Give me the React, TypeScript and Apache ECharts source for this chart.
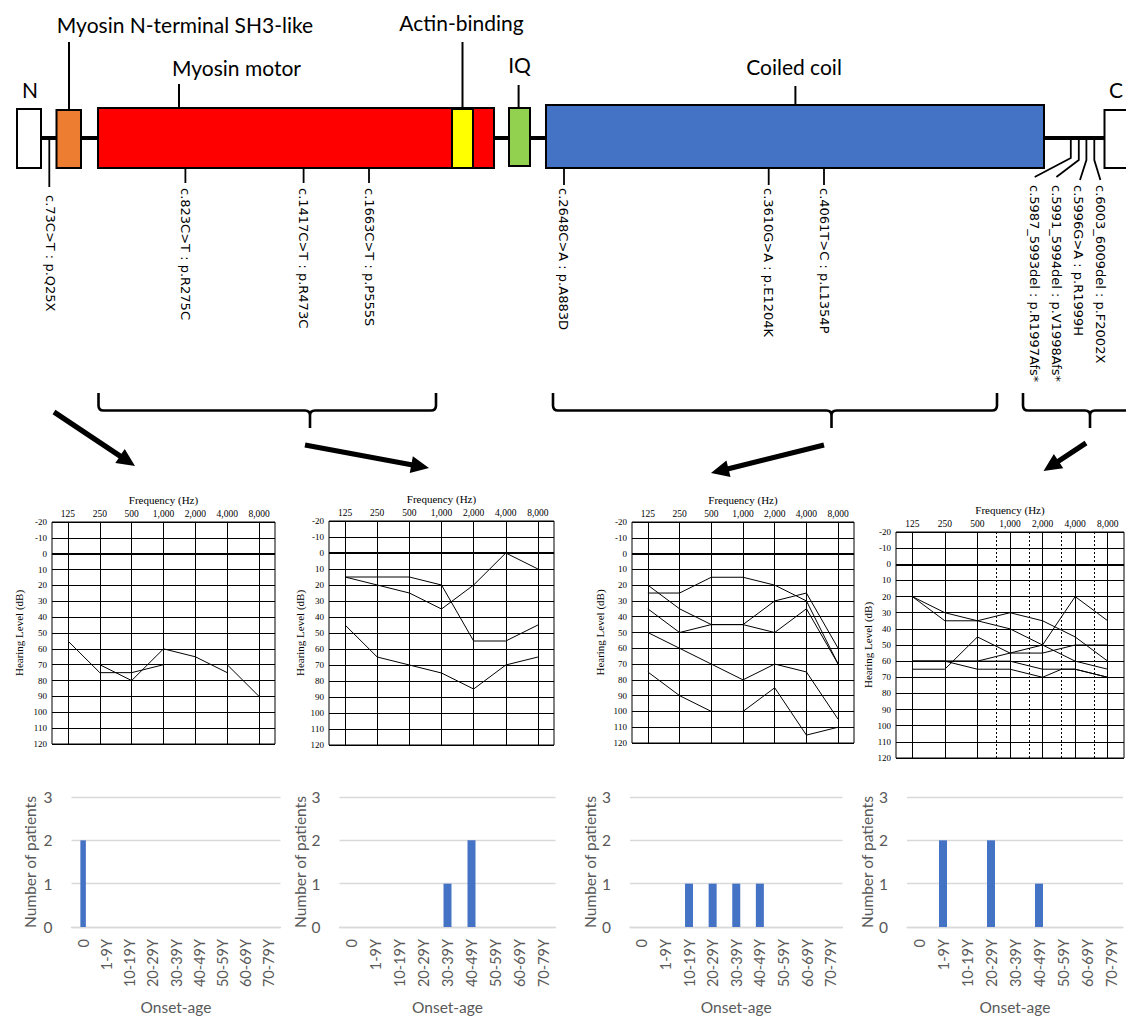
import React, { useEffect, useRef } from "react";
import * as echarts from "echarts";

// ================= DATA =================
// Audiogram frequencies (Hz) and their tick labels
const FREQ_HZ = [125, 250, 500, 1000, 2000, 4000, 8000];
const FREQ_LABELS = ["125", "250", "500", "1,000", "2,000", "4,000", "8,000"];
const HALF_OCTAVE_HZ = [750, 1500, 3000, 6000];
const P4_FREQ_HZ = [125, 250, 500, 1000, 2000, 3000, 4000, 8000];

// Panel 1 (c.73C>T) hearing levels in dB, aligned with FREQ_HZ
const P1_A = [55, 75, 75, 70, null, 70, 90];
const P1_B = [null, 70, 80, 60, 65, 75, null];
// Panel 2 (myosin motor)
const P2_A = [15, 15, 15, 20, 55, 55, 45];
const P2_B = [15, 20, 25, 35, 20, 0, 10];
const P2_C = [45, 65, 70, 75, 85, 70, 65];
// Panel 3 (coiled coil)
const P3_A = [25, 25, 15, 15, 20, 30, 70];
const P3_B = [20, 35, 45, 45, 50, 35, 70];
const P3_C = [35, 50, 45, 45, 30, 25, 60];
const P3_D = [50, 60, 70, 80, 70, 75, 105];
const P3_E = [75, 90, 100, 100, 85, 115, 110];
// Panel 4 (C-terminal), aligned with P4_FREQ_HZ
const P4_A = [20, 30, 35, 40, 50, null, 60, 65];
const P4_B = [20, 35, 35, 30, 35, null, 45, 60];
const P4_C = [60, 60, 60, 55, 50, null, 20, 35];
const P4_D = [65, 65, 45, 55, 55, null, 50, 50];
const P4_E = [60, 60, 65, 65, 70, 65, 65, 70];
const P4_F = [60, 60, 60, 60, 65, null, 65, 70];

// Onset-age histograms
const AGE_GROUPS = ["0", "1-9Y", "10-19Y", "20-29Y", "30-39Y", "40-49Y", "50-59Y", "60-69Y", "70-79Y"];
const ONSET_P1 = [2, 0, 0, 0, 0, 0, 0, 0, 0];
const ONSET_P2 = [0, 0, 0, 0, 1, 2, 0, 0, 0];
const ONSET_P3 = [0, 0, 1, 1, 1, 1, 0, 0, 0];
const ONSET_P4 = [0, 2, 0, 2, 0, 1, 0, 0, 0];

// Protein diagram texts
const DOMAIN_LABELS = ["N", "Myosin N-terminal SH3-like", "Myosin motor", "Actin-binding", "IQ", "Coiled coil", "C"];
const MUTATIONS = [
  "c.73C>T : p.Q25X",
  "c.823C>T : p.R275C",
  "c.1417C>T : p.R473C",
  "c.1663C>T : p.P555S",
  "c.2648C>A : p.A883D",
  "c.3610G>A : p.E1204K",
  "c.4061T>C : p.L1354P",
  "c.5987_5993del : p.R1997Afs*",
  "c.5991_5994del : p.V1998Afs*",
  "c.5996G>A : p.R1999H",
  "c.6003_6009del : p.F2002X",
];

// ================= LAYOUT / STYLE =================
const SERIF = "'Liberation Serif', 'Times New Roman', serif";
const SANS = "Lato, 'Open Sans', sans-serif";
const MUT_FONT = "'DejaVu Sans', sans-serif";

const AUDIO_PANELS = [
  { freqs: FREQ_HZ, lines: [P1_A, P1_B], connect: false, half: false },
  { freqs: FREQ_HZ, lines: [P2_A, P2_B, P2_C], connect: false, half: false },
  { freqs: FREQ_HZ, lines: [P3_A, P3_B, P3_C, P3_D, P3_E], connect: false, half: false },
  { freqs: P4_FREQ_HZ, lines: [P4_A, P4_B, P4_C, P4_D, P4_E, P4_F], connect: true, half: true },
];
const AUDIO_LAYOUT = [
  { left: 52, top: 522, width: 223, height: 222, gapY: 28 },
  { left: 329, top: 521, width: 225, height: 224, gapY: 23.5 },
  { left: 632, top: 522, width: 222, height: 221, gapY: 26.5 },
  { left: 896, top: 532, width: 228, height: 226, gapY: 17.5 },
];
const BAR_PANELS = [ONSET_P1, ONSET_P2, ONSET_P3, ONSET_P4];
const BAR_LAYOUT = [
  { left: 71.5, width: 209, barWidth: 5.5, gapY: 33.5 },
  { left: 339.5, width: 216, barWidth: 8, gapY: 28.5 },
  { left: 630, width: 212.5, barWidth: 8, gapY: 31.5 },
  { left: 907, width: 216, barWidth: 8, gapY: 29.5 },
];

// diagram layout
const BOXES = [
  { x: 17, y: 109, w: 24, h: 59, fill: "#ffffff" },
  { x: 56.5, y: 110, w: 24.5, h: 58, fill: "#ED7D31" },
  { x: 98, y: 108, w: 396, h: 60, fill: "#FF0000" },
  { x: 452, y: 109, w: 21, h: 59, fill: "#FFFF00" },
  { x: 509, y: 108, w: 21, h: 58, fill: "#92D050" },
  { x: 546, y: 105, w: 498, h: 63, fill: "#4472C4" },
  { x: 1104.5, y: 110, w: 40, h: 58, fill: "#ffffff" },
];
const DOMAIN_POS = [
  { x: 30, y: 89, line: null },
  { x: 185, y: 24, line: [69, 42, 110] },
  { x: 236.5, y: 67, line: [179, 84, 108] },
  { x: 461.5, y: 22, line: [462.5, 42, 109] },
  { x: 519.5, y: 64, line: [518.6, 85, 108] },
  { x: 794, y: 66, line: [795.4, 86, 105] },
  { x: 1116, y: 89, line: null },
];
const MUT_POS = [
  { tx: 50, ty: 195, pts: [[49.3, 138], [49.3, 187]] },
  { tx: 185.5, ty: 188, pts: [[185.4, 168], [185.4, 183]] },
  { tx: 303.6, ty: 188, pts: [[303.6, 168], [303.6, 183]] },
  { tx: 369, ty: 188, pts: [[369, 168], [369, 183]] },
  { tx: 563.5, ty: 188, pts: [[564, 168], [564, 185]] },
  { tx: 768.5, ty: 188, pts: [[768.7, 168], [768.7, 185]] },
  { tx: 824, ty: 188, pts: [[824, 168], [824, 185]] },
  { tx: 1034, ty: 185, pts: [[1070.8, 138], [1070.8, 158], [1034.7, 177]] },
  { tx: 1056, ty: 185, pts: [[1078.8, 138], [1078.8, 160], [1056.4, 177]] },
  { tx: 1078, ty: 185, pts: [[1086.4, 138], [1086.4, 160], [1080, 180]] },
  { tx: 1100.5, ty: 185, pts: [[1094.3, 138], [1094.3, 160], [1100.4, 180]] },
];
const BRACES = [
  { l: 98.5, r: 436, c: 310 },
  { l: 553, r: 997, c: 831.5 },
  { l: 1023, r: 1150, c: 1090 },
];
const ARROWS = [
  { from: [54, 412], to: [135, 466] },
  { from: [305, 445], to: [429, 468] },
  { from: [824, 445], to: [711, 473] },
  { from: [1086, 443], to: [1043.5, 471] },
];

function bracePath(l: number, r: number, c: number) {
  const top = 393, mid = 410.5, tip = 428, rr = 5;
  return `M${l} ${top} L${l} ${mid - rr} Q${l} ${mid} ${l + rr} ${mid} L${c - rr} ${mid} Q${c} ${mid} ${c} ${mid + rr} L${c} ${tip} M${c} ${mid + rr} Q${c} ${mid} ${c + rr} ${mid} L${r - rr} ${mid} Q${r} ${mid} ${r} ${mid - rr} L${r} ${top}`;
}

function arrowPolygon(from: number[], to: number[]) {
  const dx = to[0] - from[0], dy = to[1] - from[1];
  const len = Math.hypot(dx, dy);
  const ux = dx / len, uy = dy / len;
  const px = -uy, py = ux;
  const headLen = 18, headHalf = 8.5, shaft = 2.6;
  const bx = to[0] - ux * headLen, by = to[1] - uy * headLen;
  return {
    type: "polygon",
    shape: {
      points: [
        [from[0] + px * shaft, from[1] + py * shaft],
        [bx + px * shaft, by + py * shaft],
        [bx + px * headHalf, by + py * headHalf],
        [to[0], to[1]],
        [bx - px * headHalf, by - py * headHalf],
        [bx - px * shaft, by - py * shaft],
        [from[0] - px * shaft, from[1] - py * shaft],
      ],
    },
    style: { fill: "#000" },
    silent: true,
  };
}

function buildOption() {
  BRACES.forEach((b, i) => {
    echarts.graphic.registerShape("brace" + i, echarts.graphic.extendPath(bracePath(b.l, b.r, b.c), {}));
  });

  const grids: any[] = [];
  const xAxes: any[] = [];
  const yAxes: any[] = [];
  const series: any[] = [];

  AUDIO_PANELS.forEach((p, i) => {
    const L = AUDIO_LAYOUT[i];
    grids.push({ left: L.left, top: L.top, width: L.width, height: L.height, show: true, borderColor: "#000", borderWidth: 1, backgroundColor: "transparent" });
    const logIdx = xAxes.length;
    xAxes.push({ type: "log", logBase: 2, gridIndex: i, min: FREQ_HZ[0] / Math.SQRT2, max: FREQ_HZ[FREQ_HZ.length - 1] * Math.SQRT2, show: false });
    xAxes.push({
      type: "category", gridIndex: i, position: "top", data: FREQ_LABELS, boundaryGap: true,
      axisLine: { show: false }, axisTick: { show: false }, splitLine: { show: false },
      axisLabel: { fontFamily: SERIF, fontSize: 9.5, color: "#000", margin: 3, interval: 0 },
      name: "Frequency (Hz)", nameLocation: "middle", nameGap: 17,
      nameTextStyle: { fontFamily: SERIF, fontSize: 11, color: "#000" },
    });
    yAxes.push({
      type: "value", gridIndex: i, inverse: true, min: -20, max: 120, interval: 10,
      axisLine: { show: false }, axisTick: { show: false },
      splitLine: { show: true, lineStyle: { color: "#000", width: 1 } },
      axisLabel: { fontFamily: SERIF, fontSize: 9, color: "#000", margin: 5 },
      name: "Hearing Level (dB)", nameLocation: "middle", nameGap: L.gapY,
      nameTextStyle: { fontFamily: SERIF, fontSize: 11, color: "#000" },
    });
    const mlData: any[] = FREQ_HZ.map((f) => ({ xAxis: f }));
    mlData.push({ yAxis: 0, lineStyle: { width: 2, color: "#000", type: "solid" } });
    if (p.half) HALF_OCTAVE_HZ.forEach((f) => mlData.push({ xAxis: f, lineStyle: { type: [2, 2], width: 1, color: "#000" } }));
    p.lines.forEach((vals, k) => {
      series.push({
        type: "line", xAxisIndex: logIdx, yAxisIndex: i,
        data: p.freqs.map((f, j) => [f, vals[j] === null ? null : vals[j]]),
        connectNulls: p.connect, symbol: "none", showSymbol: false, silent: true,
        lineStyle: { color: "#000", width: 1 },
        markLine: k === 0 ? {
          silent: true, symbol: ["none", "none"], label: { show: false },
          lineStyle: { color: "#000", width: 1, type: "solid" }, data: mlData, animation: false,
        } : undefined,
        z: 3,
      });
    });
  });

  BAR_PANELS.forEach((vals, j) => {
    const L = BAR_LAYOUT[j];
    const gi = 4 + j;
    grids.push({ left: L.left, top: 797, width: L.width, height: 133 });
    const xi = xAxes.length;
    xAxes.push({
      type: "category", gridIndex: gi, data: AGE_GROUPS,
      axisLine: { show: true, lineStyle: { color: "#D9D9D9", width: 1.3 } }, axisTick: { show: false },
      axisLabel: { rotate: 90, interval: 0, fontFamily: SANS, fontSize: 14.5, color: "#595959", margin: 12 },
      name: "Onset-age", nameLocation: "middle", nameGap: 72,
      nameTextStyle: { fontFamily: SANS, fontSize: 15.5, color: "#595959" },
    });
    yAxes.push({
      type: "value", gridIndex: gi, min: 0, max: 3, interval: 1,
      axisLine: { show: false }, axisTick: { show: false },
      splitLine: { show: true, lineStyle: { color: "#D9D9D9", width: 1.3 } },
      axisLabel: { fontFamily: SANS, fontSize: 15.5, color: "#595959", margin: 19 },
      name: "Number of patients", nameLocation: "middle", nameGap: L.gapY,
      nameTextStyle: { fontFamily: SANS, fontSize: 15.5, color: "#595959" },
    });
    series.push({ type: "bar", xAxisIndex: xi, yAxisIndex: gi, data: vals, barWidth: L.barWidth, itemStyle: { color: "#4472C4" }, silent: true });
  });

  // ---------- diagram graphics ----------
  const g: any[] = [];
  g.push({ type: "line", shape: { x1: 41, y1: 138, x2: 1105, y2: 138 }, style: { stroke: "#000", lineWidth: 4 }, silent: true });
  BOXES.forEach((b) => g.push({ type: "rect", shape: { x: b.x, y: b.y, width: b.w, height: b.h }, style: { fill: b.fill, stroke: "#000", lineWidth: 2 }, silent: true }));
  DOMAIN_LABELS.forEach((t, i) => {
    const p = DOMAIN_POS[i];
    g.push({ type: "text", x: p.x, y: p.y, style: { text: t, fontFamily: SANS, fontSize: 21, fill: "#000", align: "center", verticalAlign: "middle" }, silent: true });
    if (p.line) g.push({ type: "line", shape: { x1: p.line[0], y1: p.line[1], x2: p.line[0], y2: p.line[2] }, style: { stroke: "#000", lineWidth: 2 }, silent: true });
  });
  MUTATIONS.forEach((t, i) => {
    const m = MUT_POS[i];
    g.push({ type: "polyline", shape: { points: m.pts }, style: { stroke: "#000", lineWidth: 1.8, fill: null }, silent: true });
    g.push({ type: "text", x: m.tx, y: m.ty, rotation: -Math.PI / 2, style: { text: t, fontFamily: MUT_FONT, fontSize: 13, fill: "#000", align: "left", verticalAlign: "middle" }, silent: true });
  });
  BRACES.forEach((_, i) => g.push({ type: "brace" + i, style: { fill: null, stroke: "#000", lineWidth: 2.6 }, silent: true }));
  ARROWS.forEach((a) => g.push(arrowPolygon(a.from, a.to)));

  return {
    animation: false,
    backgroundColor: "#ffffff",
    grid: grids,
    xAxis: xAxes,
    yAxis: yAxes,
    series,
    graphic: g,
  };
}

export default function App() {
  const ref = useRef<HTMLDivElement>(null);
  useEffect(() => {
    if (!ref.current) return;
    const chart = echarts.init(ref.current, null, { renderer: "svg" });
    chart.setOption(buildOption() as any);
    return () => chart.dispose();
  }, []);
  return <div ref={ref} style={{ position: "absolute", left: 0, top: 0, width: 1126, height: 1016, background: "#fff" }} />;
}
